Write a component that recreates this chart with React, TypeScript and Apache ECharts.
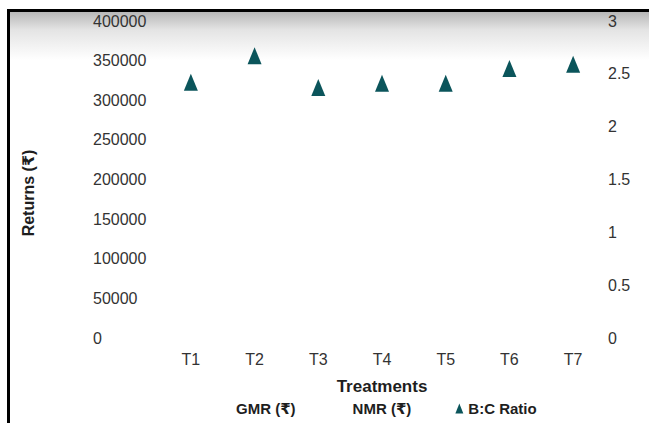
import React, { useEffect, useRef } from "react";
import * as echarts from "echarts";

const categories = ["T1", "T2", "T3", "T4", "T5", "T6", "T7"];
const gmrValues: number[] = [];
const nmrValues: number[] = [];
const bcRatio = [2.42, 2.67, 2.37, 2.41, 2.41, 2.55, 2.59];
const leftTicks = { min: 0, max: 400000, interval: 50000 };
const rightTicks = { min: 0, max: 3, interval: 0.5 };

const FONT = "'Liberation Sans', Arial, 'DejaVu Sans', sans-serif";
const TEAL = "#0b555b";

export default function App() {
  const ref = useRef<HTMLDivElement>(null);
  useEffect(() => {
    if (!ref.current) return;
    const chart = echarts.init(ref.current, undefined, { renderer: "svg" });
    chart.setOption({
      animation: false,
      textStyle: { fontFamily: FONT },
      grid: { left: 159, right: 44, top: 21, bottom: 85 },
      legend: {
        left: 223,
        top: 401,
        padding: 0,
        itemWidth: 8,
        itemHeight: 10,
        itemGap: 44,
        textStyle: { fontSize: 15, fontWeight: "bold", color: "#1e1e1e", fontFamily: FONT },
        data: [
          { name: "GMR (₹)" },
          { name: "NMR (₹)" },
          { name: "B:C Ratio", icon: "triangle" },
        ],
      },
      xAxis: {
        type: "category",
        data: categories,
        boundaryGap: true,
        name: "Treatments",
        nameLocation: "middle",
        nameGap: 40,
        nameTextStyle: { fontSize: 17, fontWeight: "bold", color: "#1e1e1e", fontFamily: FONT },
        axisLine: { show: false },
        axisTick: { show: false },
        axisLabel: { fontSize: 16, color: "#333", margin: 13, fontFamily: FONT },
        splitLine: { show: false },
      },
      yAxis: [
        {
          type: "value",
          min: leftTicks.min,
          max: leftTicks.max,
          interval: leftTicks.interval,
          axisLine: { show: false },
          axisTick: { show: false },
          splitLine: { show: false },
          axisLabel: {
            fontSize: 16,
            color: "#333",
            align: "left",
            margin: 66,
            fontFamily: FONT,
            formatter: (v: number) => String(v),
          },
        },
        {
          type: "value",
          min: rightTicks.min,
          max: rightTicks.max,
          interval: rightTicks.interval,
          position: "right",
          axisLine: { show: false },
          axisTick: { show: false },
          splitLine: { show: false },
          axisLabel: { fontSize: 16, color: "#333", margin: 3, fontFamily: FONT },
        },
      ],
      graphic: [
        {
          type: "text",
          x: 28,
          y: 193,
          rotation: Math.PI / 2,
          style: {
            text: "Returns (₹)",
            font: `bold 16px ${FONT}`,
            fill: "#1e1e1e",
            align: "center",
            verticalAlign: "middle",
          },
        },
      ],
      series: [
        {
          name: "GMR (₹)",
          type: "bar",
          data: gmrValues,
          itemStyle: { color: "rgba(0,0,0,0)" },
        },
        {
          name: "NMR (₹)",
          type: "bar",
          data: nmrValues,
          itemStyle: { color: "rgba(0,0,0,0)" },
        },
        {
          name: "B:C Ratio",
          type: "scatter",
          yAxisIndex: 1,
          data: bcRatio,
          symbol: "triangle",
          symbolSize: [14, 17],
          itemStyle: { color: TEAL, opacity: 1 },
        },
      ],
    });
    return () => chart.dispose();
  }, []);

  return (
    <div style={{ position: "fixed", left: 0, top: 0, width: 649, height: 423, background: "#fff", overflow: "hidden" }}>
      <div
        style={{
          position: "absolute",
          left: 7,
          top: 9,
          width: 700,
          height: 500,
          borderTop: "3px solid #000",
          borderLeft: "3px solid #000",
          background: "linear-gradient(#b7b7b7 0px, #e4e4e4 18px, #ffffff 48px)",
        }}
      />
      <div ref={ref} style={{ position: "absolute", left: 0, top: 0, width: 649, height: 423 }} />
    </div>
  );
}
